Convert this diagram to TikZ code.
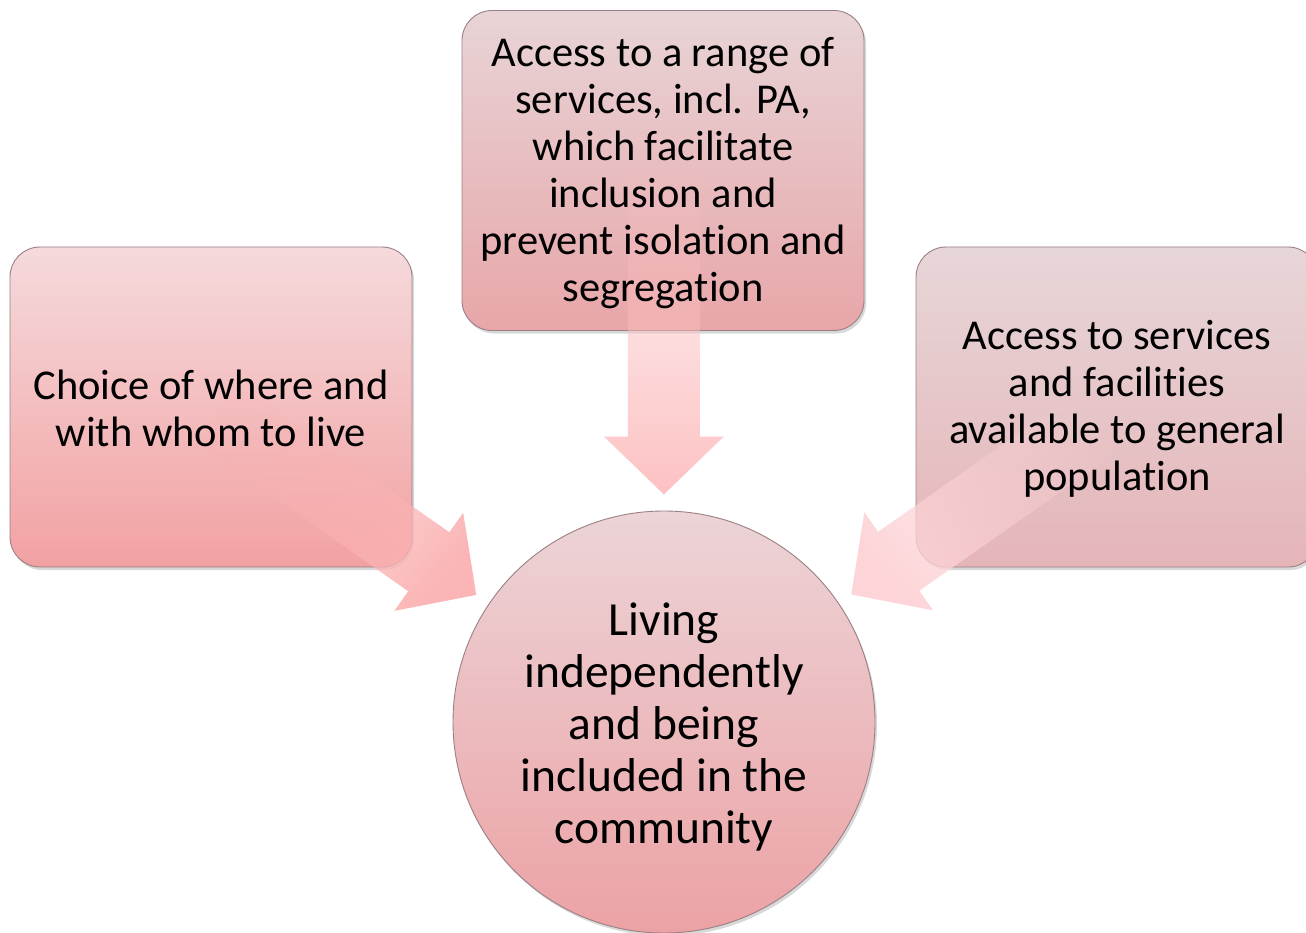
\documentclass[tikz,border=0pt]{standalone}
\usepackage{fontspec}
\setmainfont{Carlito}[Ligatures={NoCommon}]
\usetikzlibrary{calc,shadows,fadings}
\definecolor{lTop}{HTML}{F5DADC}\definecolor{lBot}{HTML}{F2A1A2}
\definecolor{tTop}{HTML}{E8D4D6}\definecolor{tBot}{HTML}{E8A6A9}
\definecolor{rTop}{HTML}{E7D6D8}\definecolor{rBot}{HTML}{E5B5B8}
\definecolor{cTop}{HTML}{ECD4D7}\definecolor{cBot}{HTML}{ECA2A5}
\definecolor{edge}{HTML}{9A8085}
\definecolor{arrL}{HTML}{FBB2B3}\definecolor{arrT}{HTML}{FDBEC0}\definecolor{arrR}{HTML}{FDD3D6}
\tikzfading[name=tailfade, left color=transparent!97, middle color=transparent!65, right color=transparent!0]
\tikzset{
  boxstyle/.style={draw=edge, line width=0.9pt, rounded corners=30pt, minimum width=402pt, minimum height=320pt,
    inner sep=0pt,
    drop shadow={opacity=0.3, shadow xshift=2pt, shadow yshift=-3pt}},
  boxtext/.style={align=center, inner sep=0pt, text=black, font=\fontsize{42.5}{47}\selectfont},
  circstyle/.style={draw=edge, line width=0.9pt, circle, minimum size=422pt, inner sep=0pt,
    top color=cTop, bottom color=cBot,
    drop shadow={opacity=0.3, shadow xshift=2pt, shadow yshift=-3pt}},
  circtext/.style={align=center, inner sep=0pt, text=black, font=\fontsize{47.5}{52}\selectfont},
  arrowfill/.style={fill=#1, draw=none, fill opacity=0.95},
}
% block arrow from #1 (tail) to #2 (tip), colour #3, fading angle #4
\newcommand\blockarr[4]{%
  \fill[arrowfill=#3, path fading=tailfade, fading angle=#4]
    ($(#1)!36pt!90:(#2)$) --
    ($($(#2)!58pt!(#1)$)!36pt!-90:(#1)$) --
    ($($(#2)!58pt!(#1)$)!60pt!-90:(#1)$) --
    (#2) --
    ($($(#2)!58pt!(#1)$)!60pt!90:(#1)$) --
    ($($(#2)!58pt!(#1)$)!36pt!90:(#1)$) --
    ($(#1)!36pt!-90:(#2)$) -- cycle;}
\begin{document}
\begin{tikzpicture}[x=1pt,y=-1pt]
\useasboundingbox (0,0) rectangle (1306,933);
\clip (0,0) rectangle (1306,933);
\fill[white] (0,0) rectangle (1306,933);
\node[boxstyle, top color=lTop, bottom color=lBot] (L) at (211,407) {};
\node[boxstyle, top color=tTop, bottom color=tBot] (T) at (663,170.5) {};
\node[boxstyle, top color=rTop, bottom color=rBot] (R) at (1117,407) {};
\node[circstyle] (C) at (664,722) {};
\coordinate (tailL) at (217,413);  \coordinate (tipL) at (477,595);
\coordinate (tailT) at (664,150);  \coordinate (tipT) at (664,495);
\coordinate (tailR) at (1111,413); \coordinate (tipR) at (851,595);
\blockarr{tailL}{tipL}{arrL}{-35}
\blockarr{tailT}{tipT}{arrT}{-90}
\blockarr{tailR}{tipR}{arrR}{-145}
\node[boxtext] (Ltext) at ([yshift=-1pt]L.center) {Choice of where and\\with whom to live};
\node[boxtext] (Ttext) at ([yshift=-3pt]T.center) {Access to a range of\\services, incl. PA,\\which facilitate\\inclusion and\\prevent isolation and\\segregation};
\node[boxtext] (Rtext) at ([yshift=-2pt]R.center) {Access to services\\and facilities\\available to general\\population};
\node[circtext] (Ctext) at ([yshift=-5pt]C.center) {Living\\independently\\and being\\included in the\\community};
\end{tikzpicture}
\end{document}
